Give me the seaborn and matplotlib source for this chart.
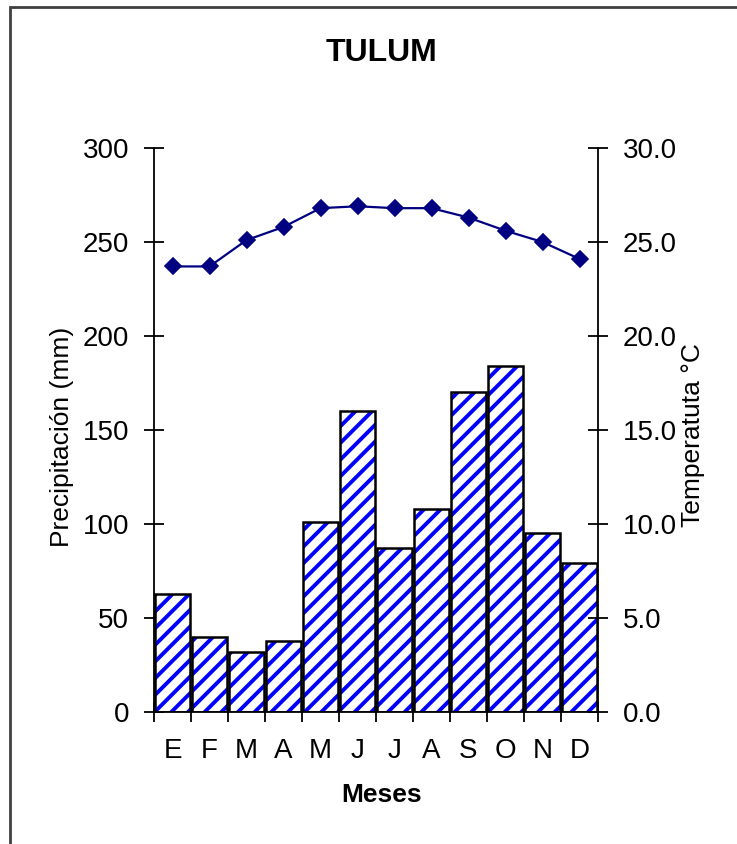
import numpy as np
import pandas as pd
import matplotlib
matplotlib.use("Agg")
import matplotlib.pyplot as plt
import seaborn as sns
from matplotlib.patches import Rectangle
from matplotlib import font_manager

meses = ["E", "F", "M", "A", "M", "J", "J", "A", "S", "O", "N", "D"]
precipitacion = [63, 40, 32, 38, 101, 160, 87, 108, 170, 184, 95, 79]
temperatura = [23.7, 23.7, 25.1, 25.8, 26.8, 26.9, 26.8, 26.8, 26.3, 25.6, 25.0, 24.1]
prec_ticks = [0, 50, 100, 150, 200, 250, 300]
temp_ticks = [0, 5, 10, 15, 20, 25, 30]

sns.set_style("ticks")


def has_font(name):
    try:
        font_manager.findfont(font_manager.FontProperties(family=name), fallback_to_default=False)
        return True
    except Exception:
        return False


narrow = "Liberation Sans Narrow" if has_font("Liberation Sans Narrow") else "Liberation Sans"
plt.rcParams["font.family"] = ["Liberation Sans", "DejaVu Sans"]
plt.rcParams["hatch.linewidth"] = 2.8
plt.rcParams["text.color"] = "black"
plt.rcParams["xtick.color"] = "black"
plt.rcParams["ytick.color"] = "black"
plt.rcParams["axes.labelcolor"] = "black"

df = pd.DataFrame({"mes": [f"{i}" for i in range(12)], "precip": precipitacion, "temp": temperatura})

fig = plt.figure(figsize=(7.37, 8.44), dpi=100)
ax = fig.add_axes([154 / 737, 1 - 712 / 844, 444 / 737, 564 / 844])

# hatched fill layer
sns.barplot(data=df, x="mes", y="precip", ax=ax, color="white", edgecolor="#0000ff",
            hatch="//", linewidth=0, width=0.92, errorbar=None)
# outline layer
sns.barplot(data=df, x="mes", y="precip", ax=ax, fill=False, edgecolor="black",
            linewidth=1.8, width=0.92, errorbar=None)

ax2 = ax.twinx()
sns.pointplot(data=df, x="mes", y="temp", ax=ax2, color="#000080", marker="D",
              markersize=8, linewidth=1.6, errorbar=None)

ax.set_xlim(-0.5, 11.5)
ax.set_ylim(0, 300)
ax2.set_ylim(0, 30)

tick_font = dict(family=[narrow, "Liberation Sans"], size=20, color="black")

ax.set_yticks(prec_ticks)
ax.set_yticklabels([str(v) for v in prec_ticks], fontdict=tick_font)
ax2.set_yticks(temp_ticks)
ax2.set_yticklabels([f"{v:.1f}" for v in temp_ticks], fontdict=tick_font)

ax.set_xticks(np.arange(-0.5, 12, 1))
ax.set_xticklabels([""] * 13)
ax.set_xticks(np.arange(12), minor=True)
ax.set_xticklabels(meses, minor=True, fontdict=tick_font)

ax.tick_params(axis="y", which="major", direction="inout", length=14, width=1.3, pad=11, colors="black")
ax2.tick_params(axis="y", which="major", direction="inout", length=14, width=1.3, pad=11, colors="black")
ax.tick_params(axis="x", which="major", direction="inout", length=14, width=1.3, colors="black")
ax.tick_params(axis="x", which="minor", length=0, pad=19, colors="black")

ax.set_xlabel("")
ax.set_ylabel("")
ax2.set_xlabel("")
ax2.set_ylabel("")

for s in ["top", "right"]:
    ax.spines[s].set_visible(False)
for s in ["top", "left", "bottom"]:
    ax2.spines[s].set_visible(False)
for a in (ax, ax2):
    for s in a.spines.values():
        s.set_linewidth(1.3)
        s.set_color("black")
ax.patch.set_visible(False)

fig.text(381.5 / 737, 1 - 53 / 844, "TULUM", ha="center", va="center", color="black",
         fontsize=23, fontweight="bold", family=["Liberation Sans", "DejaVu Sans"])
fig.text(382 / 737, 1 - 795 / 844, "Meses", ha="center", va="center", color="black",
         fontsize=19, fontweight="bold", family=[narrow, "Liberation Sans"])
fig.text(62 / 737, 1 - 437 / 844, "Precipitación (mm)", ha="center", va="center", color="black",
         rotation=90, fontsize=19, family=["Liberation Sans", "DejaVu Sans"])
fig.text(693 / 737, 1 - 435 / 844, "Temperatuta °C", ha="center", va="center", color="black",
         rotation=90, fontsize=19, family=["Liberation Sans", "DejaVu Sans"])

fig.patches.append(Rectangle((10 / 737, -0.02), 1.0, 1 - 7 / 844 + 0.02,
                             transform=fig.transFigure, fill=False,
                             edgecolor="#404040", linewidth=2))

fig.savefig("out.png", dpi=100)
